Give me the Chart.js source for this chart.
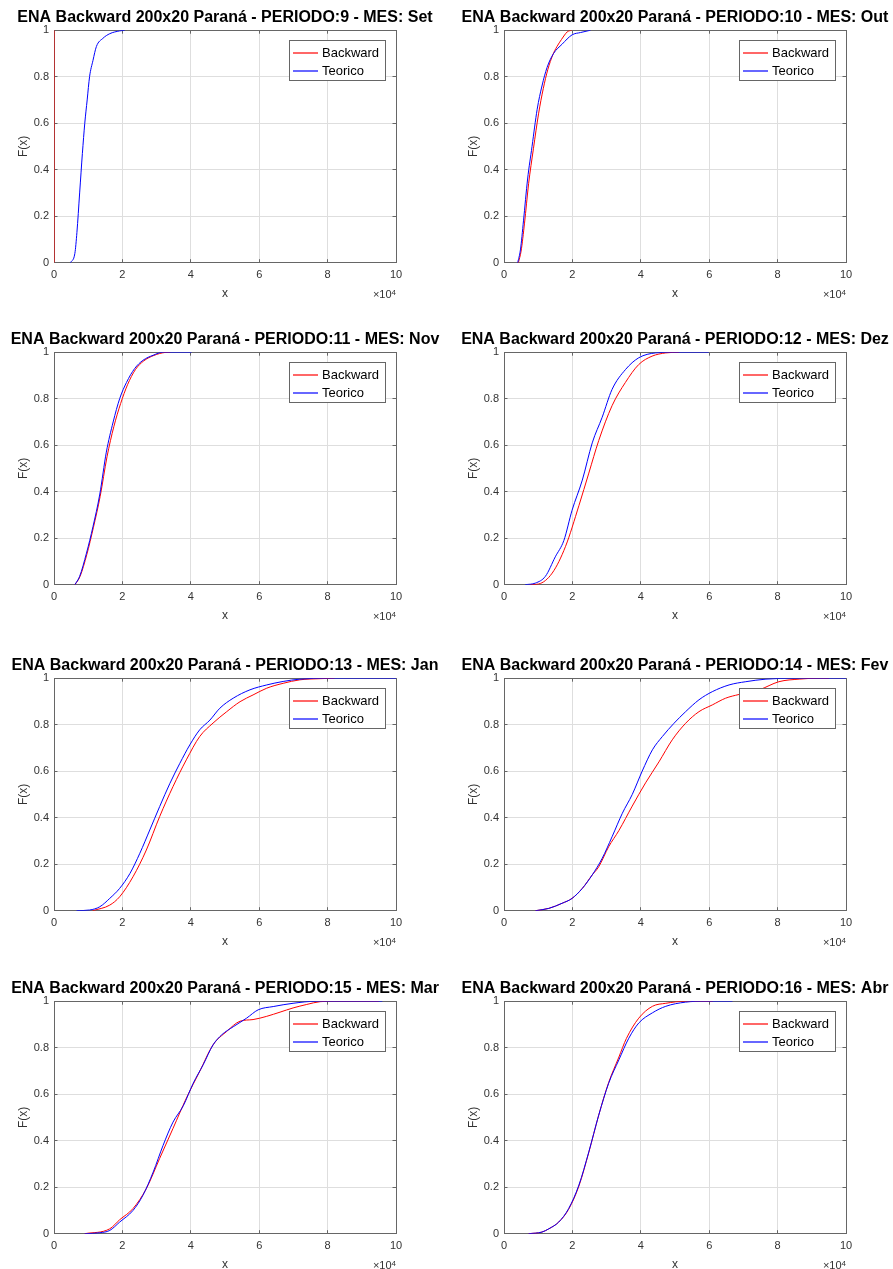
<!DOCTYPE html>
<html>
<head>
<meta charset="utf-8">
<title>ENA Backward 200x20 Paraná</title>
<script src="https://cdn.jsdelivr.net/npm/chart.js@4.4.1/dist/chart.umd.min.js"></script>
<style>
  html, body { margin: 0; padding: 0; background: #fff; overflow: hidden; }
  #fig { position: relative; width: 893px; height: 1269px; overflow: hidden; }
  #fig canvas { position: absolute; }
</style>
</head>
<body>
<div id="fig"></div>
<script>
// Curvas F(x) (x em unidades brutas, eixo em x10^4)
const periodos = [9, 10, 11, 12, 13, 14, 15, 16];
const meses = ['Set', 'Out', 'Nov', 'Dez', 'Jan', 'Fev', 'Mar', 'Abr'];

// PERIODO 9 - Set
const backX9 = [0, 0];
const backY9 = [0, 1];
const teoX9 = [4800, 6100, 6700, 7500, 8300, 9000, 9700, 10400, 11400, 12400, 14300, 16300, 19200, 20700];
const teoY9 = [0, 0.04, 0.13, 0.30, 0.47, 0.60, 0.70, 0.80, 0.87, 0.93, 0.965, 0.985, 0.997, 1];

// PERIODO 10 - Out
const backX10 = [4200, 5000, 6000, 7200, 8600, 10100, 11500, 12800, 14300, 15500, 16800, 17500, 18500, 19800];
const backY10 = [0, 0.05, 0.17, 0.34, 0.49, 0.64, 0.75, 0.83, 0.895, 0.93, 0.96, 0.975, 0.993, 1];
const teoX10 = [4000, 4800, 5700, 6900, 8200, 9700, 11100, 12600, 14500, 17000, 19900, 22400, 25300];
const teoY10 = [0, 0.055, 0.18, 0.36, 0.50, 0.66, 0.76, 0.84, 0.90, 0.94, 0.98, 0.99, 1];

// PERIODO 11 - Nov
const backX11 = [6100, 7600, 9600, 11500, 13500, 15500, 17500, 19500, 21500, 23800, 26200, 29200, 32500, 34000];
const backY11 = [0, 0.035, 0.13, 0.245, 0.38, 0.55, 0.68, 0.78, 0.86, 0.925, 0.962, 0.986, 0.999, 1];
const teoX11 = [6100, 7500, 9500, 11400, 13400, 15300, 17300, 19200, 21200, 23600, 26000, 29000, 31900, 40200];
const teoY11 = [0, 0.036, 0.136, 0.25, 0.39, 0.57, 0.70, 0.80, 0.87, 0.93, 0.965, 0.987, 1, 1];

// PERIODO 12 - Dez
const backX12 = [7500, 10100, 14100, 18000, 21900, 24800, 27700, 31600, 35500, 39400, 43300, 47300, 51200];
const backY12 = [0, 0.003, 0.05, 0.165, 0.34, 0.48, 0.62, 0.77, 0.87, 0.947, 0.983, 0.997, 1];
const teoX12 = [6200, 9200, 12100, 15000, 17500, 19900, 22900, 25800, 28700, 31600, 35500, 39400, 44300, 49200, 59900];
const teoY12 = [0, 0.007, 0.036, 0.12, 0.19, 0.32, 0.45, 0.61, 0.72, 0.84, 0.925, 0.976, 0.997, 1, 1];

// PERIODO 13 - Jan
const backX13 = [11300, 16300, 19200, 23100, 27000, 30900, 34800, 38700, 42600, 46500, 50500, 54400, 58200, 62200, 67000, 71900, 77800, 82000];
const backY13 = [0, 0.024, 0.06, 0.146, 0.261, 0.405, 0.534, 0.649, 0.749, 0.807, 0.856, 0.899, 0.928, 0.957, 0.978, 0.993, 0.998, 1];
const teoX13 = [6600, 10400, 13400, 16300, 19200, 22200, 25100, 28000, 30900, 33900, 36800, 39700, 42600, 45600, 48500, 52400, 57300, 62200, 67000, 71900, 80000, 100000];
const teoY13 = [0, 0.003, 0.017, 0.053, 0.096, 0.16, 0.247, 0.347, 0.448, 0.548, 0.634, 0.713, 0.778, 0.82, 0.871, 0.914, 0.95, 0.971, 0.986, 0.996, 1, 1];

// PERIODO 14 - Fev
const backX14 = [9200, 13100, 17000, 19900, 22900, 25800, 27700, 30600, 33600, 37500, 41400, 45300, 49200, 53100, 57000, 60900, 64800, 68700, 74600, 80400, 86300, 92000, 95000];
const backY14 = [0, 0.01, 0.032, 0.053, 0.096, 0.154, 0.189, 0.275, 0.345, 0.45, 0.55, 0.64, 0.735, 0.806, 0.856, 0.885, 0.914, 0.93, 0.95, 0.985, 0.996, 1, 1];
const teoX14 = [9200, 13100, 17000, 19900, 22900, 25800, 28700, 31600, 34600, 37500, 40400, 43400, 46300, 49700, 53100, 57000, 60900, 65800, 70700, 76600, 85300, 100000];
const teoY14 = [0, 0.01, 0.032, 0.053, 0.096, 0.154, 0.225, 0.318, 0.419, 0.50, 0.60, 0.692, 0.749, 0.806, 0.856, 0.907, 0.942, 0.971, 0.985, 0.996, 1, 1];

// PERIODO 15 - Mar
const backX15 = [9000, 16300, 19200, 23100, 27000, 30900, 34800, 38700, 42600, 46500, 50500, 54400, 58200, 62200, 66100, 69900, 73900, 77800, 82000, 95000];
const backY15 = [0, 0.021, 0.06, 0.108, 0.194, 0.324, 0.453, 0.583, 0.698, 0.812, 0.87, 0.914, 0.921, 0.935, 0.953, 0.971, 0.986, 0.998, 1, 1];
const teoX15 = [9000, 13400, 16300, 19200, 23100, 26000, 29000, 31900, 34800, 37800, 40700, 43600, 46500, 49000, 52400, 56300, 59700, 64100, 69900, 76800, 96000];
const teoY15 = [0, 0.004, 0.014, 0.05, 0.10, 0.165, 0.265, 0.38, 0.48, 0.55, 0.647, 0.726, 0.812, 0.855, 0.89, 0.927, 0.963, 0.977, 0.991, 1, 1];

// PERIODO 16 - Abr
const backX16 = [7200, 11100, 13100, 16000, 18900, 21900, 24800, 27700, 30600, 33600, 35800, 39400, 43400, 47300, 53100, 61000];
const backY16 = [0, 0.007, 0.021, 0.05, 0.105, 0.205, 0.35, 0.51, 0.65, 0.76, 0.84, 0.927, 0.978, 0.991, 1, 1];
const teoX16 = [7200, 11100, 13100, 16000, 18900, 21900, 24800, 27700, 30600, 33600, 36500, 39400, 43400, 47300, 53100, 59000, 66800];
const teoY16 = [0, 0.007, 0.021, 0.05, 0.108, 0.209, 0.352, 0.51, 0.647, 0.748, 0.841, 0.906, 0.95, 0.978, 0.996, 1, 1];

const backX = [backX9, backX10, backX11, backX12, backX13, backX14, backX15, backX16];
const backY = [backY9, backY10, backY11, backY12, backY13, backY14, backY15, backY16];
const teoX = [teoX9, teoX10, teoX11, teoX12, teoX13, teoX14, teoX15, teoX16];
const teoY = [teoY9, teoY10, teoY11, teoY12, teoY13, teoY14, teoY15, teoY16];

const xTicksStep = 20000;
const yTicksStep = 0.2;

// aparencia
const FONT = '"Liberation Sans", Arial, Helvetica, sans-serif';
const boxColor = '#666666';
const gridColor = '#dedede';
const textColor = '#333333';
const rowTops = [0, 322, 648, 971];
const colLefts = [0, 450];

const pts = (xs, ys) => xs.map((x, i) => ({ x: x, y: ys[i] }));

// legenda estilo MATLAB + expoente x10^4
const matlabExtras = {
  id: 'matlabExtras',
  afterDatasetsDraw(chart) {
    const ctx = chart.ctx;
    const a = chart.chartArea;
    const bw = 96, bh = 40;
    const bx = Math.round(a.right - 11 - bw), by = Math.round(a.top + 10);
    ctx.save();
    ctx.fillStyle = '#fff';
    ctx.fillRect(bx, by, bw, bh);
    ctx.strokeStyle = boxColor;
    ctx.lineWidth = 1;
    ctx.strokeRect(bx + 0.5, by + 0.5, bw, bh);
    ctx.font = '13px ' + FONT;
    ctx.textBaseline = 'middle';
    ctx.textAlign = 'left';
    chart.data.datasets.forEach((ds, i) => {
      const yy = by + 13 + i * 18;
      ctx.strokeStyle = ds.borderColor;
      ctx.lineWidth = 1.2;
      ctx.beginPath();
      ctx.moveTo(bx + 4, yy);
      ctx.lineTo(bx + 29, yy);
      ctx.stroke();
      ctx.fillStyle = '#000';
      ctx.fillText(ds.label, bx + 33, yy);
    });
    ctx.fillStyle = textColor;
    ctx.textAlign = 'right';
    ctx.textBaseline = 'alphabetic';
    ctx.font = '8px ' + FONT;
    ctx.fillText('4', a.right, a.bottom + 32);
    const w4 = ctx.measureText('4').width;
    ctx.font = '11px ' + FONT;
    ctx.fillText('\u00d710', a.right - w4, a.bottom + 35.6);
    ctx.restore();
  }
};

function makePanel(canvas, k) {
  const monotone = backX[k][0] !== backX[k][1];
  return new Chart(canvas, {
    type: 'scatter',
    data: {
      datasets: [
        {
          label: 'Backward',
          data: pts(backX[k], backY[k]),
          borderColor: '#ff0000',
          backgroundColor: '#ff0000',
          showLine: true,
          order: 1,
          cubicInterpolationMode: monotone ? 'monotone' : 'default',
        },
        {
          label: 'Teorico',
          data: pts(teoX[k], teoY[k]),
          borderColor: '#0000ff',
          backgroundColor: '#0000ff',
          showLine: true,
          order: 0,
          cubicInterpolationMode: 'monotone',
        },
      ]
    },
    options: {
      responsive: false,
      animation: false,
      events: [],
      layout: { padding: { left: 4, right: 4, top: 4, bottom: 4.3 } },
      elements: {
        point: { radius: 0 },
        line: { borderWidth: 1, tension: 0 },
      },
      plugins: {
        legend: { display: false },
        tooltip: { enabled: false },
        title: {
          display: true,
          text: 'ENA Backward 200x20 Paraná - PERIODO:' + periodos[k] + ' - MES: ' + meses[k],
          color: '#000',
          font: { family: FONT, size: 16, weight: 'bold' },
          padding: { top: 4, bottom: 3 },
        },
      },
      scales: {
        x: {
          type: 'linear', position: 'bottom', min: 0, max: 100000,
          ticks: { stepSize: xTicksStep, callback: v => String(v / 10000), color: textColor, font: { family: FONT, size: 11 }, padding: 9.2, maxRotation: 0 },
          grid: { color: gridColor, tickColor: boxColor, tickLength: -3.5 },
          border: { color: boxColor, width: 1 },
          title: { display: true, text: 'x', color: textColor, font: { family: FONT, size: 12 }, padding: 0 },
          afterFit: s => { s.height = 38; },
        },
        y: {
          type: 'linear', position: 'left', min: 0, max: 1,
          ticks: { stepSize: yTicksStep, callback: v => String(Math.round(v * 10) / 10), color: textColor, font: { family: FONT, size: 11 }, padding: 8.5 },
          grid: { color: gridColor, tickColor: boxColor, tickLength: -3.5 },
          border: { color: boxColor, width: 1 },
          title: { display: true, text: 'F(x)', color: textColor, font: { family: FONT, size: 12 }, padding: { top: 12 } },
          afterFit: s => { s.width = 50; },
        },
        x2: {
          type: 'linear', position: 'top', min: 0, max: 100000,
          ticks: { display: false, stepSize: xTicksStep },
          grid: { drawOnChartArea: false, tickColor: boxColor, tickLength: -3.5 },
          border: { color: boxColor, width: 1 },
          afterFit: s => { s.height = 0; },
        },
        y2: {
          type: 'linear', position: 'right', min: 0, max: 1,
          ticks: { display: false, stepSize: yTicksStep },
          grid: { drawOnChartArea: false, tickColor: boxColor, tickLength: -3.5 },
          border: { color: boxColor, width: 1 },
          afterFit: s => { s.width = 50; },
        },
      },
    },
    plugins: [matlabExtras],
  });
}

const fig = document.getElementById('fig');
periodos.forEach((p, k) => {
  const c = document.createElement('canvas');
  c.width = 450;
  c.height = 305;
  c.style.left = colLefts[k % 2] + 'px';
  c.style.top = rowTops[Math.floor(k / 2)] + 'px';
  c.style.width = '450px';
  c.style.height = '305px';
  fig.appendChild(c);
  makePanel(c, k);
});
</script>
</body>
</html>
